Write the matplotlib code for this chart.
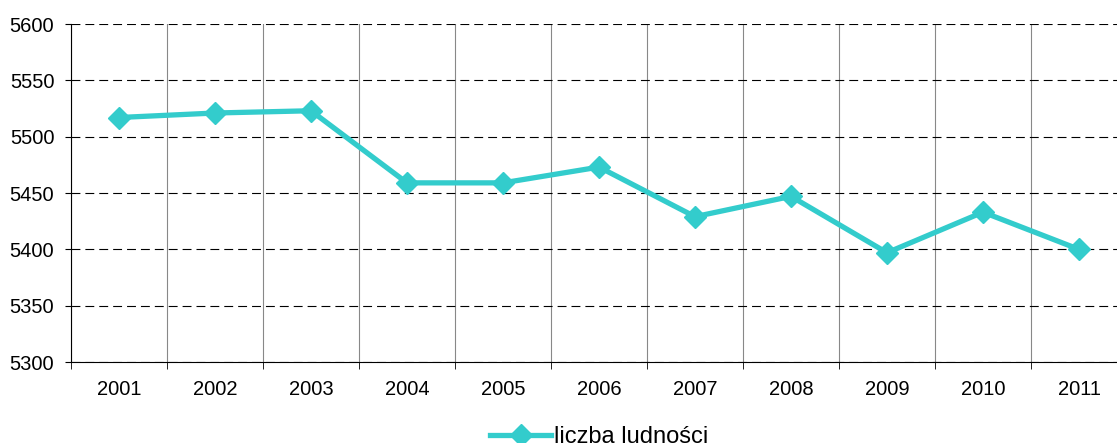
import matplotlib.pyplot as plt

plt.rcParams['font.family'] = ['Liberation Sans', 'DejaVu Sans']

years = ['2001', '2002', '2003', '2004', '2005', '2006', '2007', '2008', '2009', '2010', '2011']
population = [5517, 5521, 5523, 5459, 5459, 5473, 5429, 5447, 5397, 5433, 5400]

W, H = 1117, 443
fig = plt.figure(figsize=(W / 100, H / 100), dpi=100)
ax = fig.add_axes([71 / W, (H - 362) / H, 1056 / W, 338 / H])

x = list(range(len(years)))
ax.plot(x, population, color='#33CCCC', linewidth=3.8, marker='D', markersize=11,
        label='liczba ludności', zorder=3)

ax.set_xlim(-0.5, len(years) - 0.5)
ax.set_ylim(5300, 5600)
ax.set_yticks(range(5300, 5601, 50))
ax.set_xticks(x)
ax.set_xticklabels(years)
ax.set_xticks([i - 0.5 for i in range(len(years) + 1)], minor=True)

ax.grid(axis='y', which='major', color='black', linestyle=(0, (8, 4.5)), linewidth=0.8)
ax.grid(axis='x', which='minor', color='#888888', linestyle='-', linewidth=0.8)
ax.tick_params(axis='x', which='major', length=0, labelsize=14.5, pad=13)
ax.tick_params(axis='x', which='minor', length=5, direction='out', color='black')
ax.tick_params(axis='y', length=4, labelsize=14.5, pad=8)

for s in ['top', 'right']:
    ax.spines[s].set_visible(False)
ax.spines['left'].set_color('black')
ax.spines['bottom'].set_color('black')

ax.legend(loc='upper center', bbox_to_anchor=(0.5, -0.155), frameon=False,
          fontsize=17, handlelength=2.6, handletextpad=0.1, borderpad=0)

fig.savefig('out.png', dpi=100)
